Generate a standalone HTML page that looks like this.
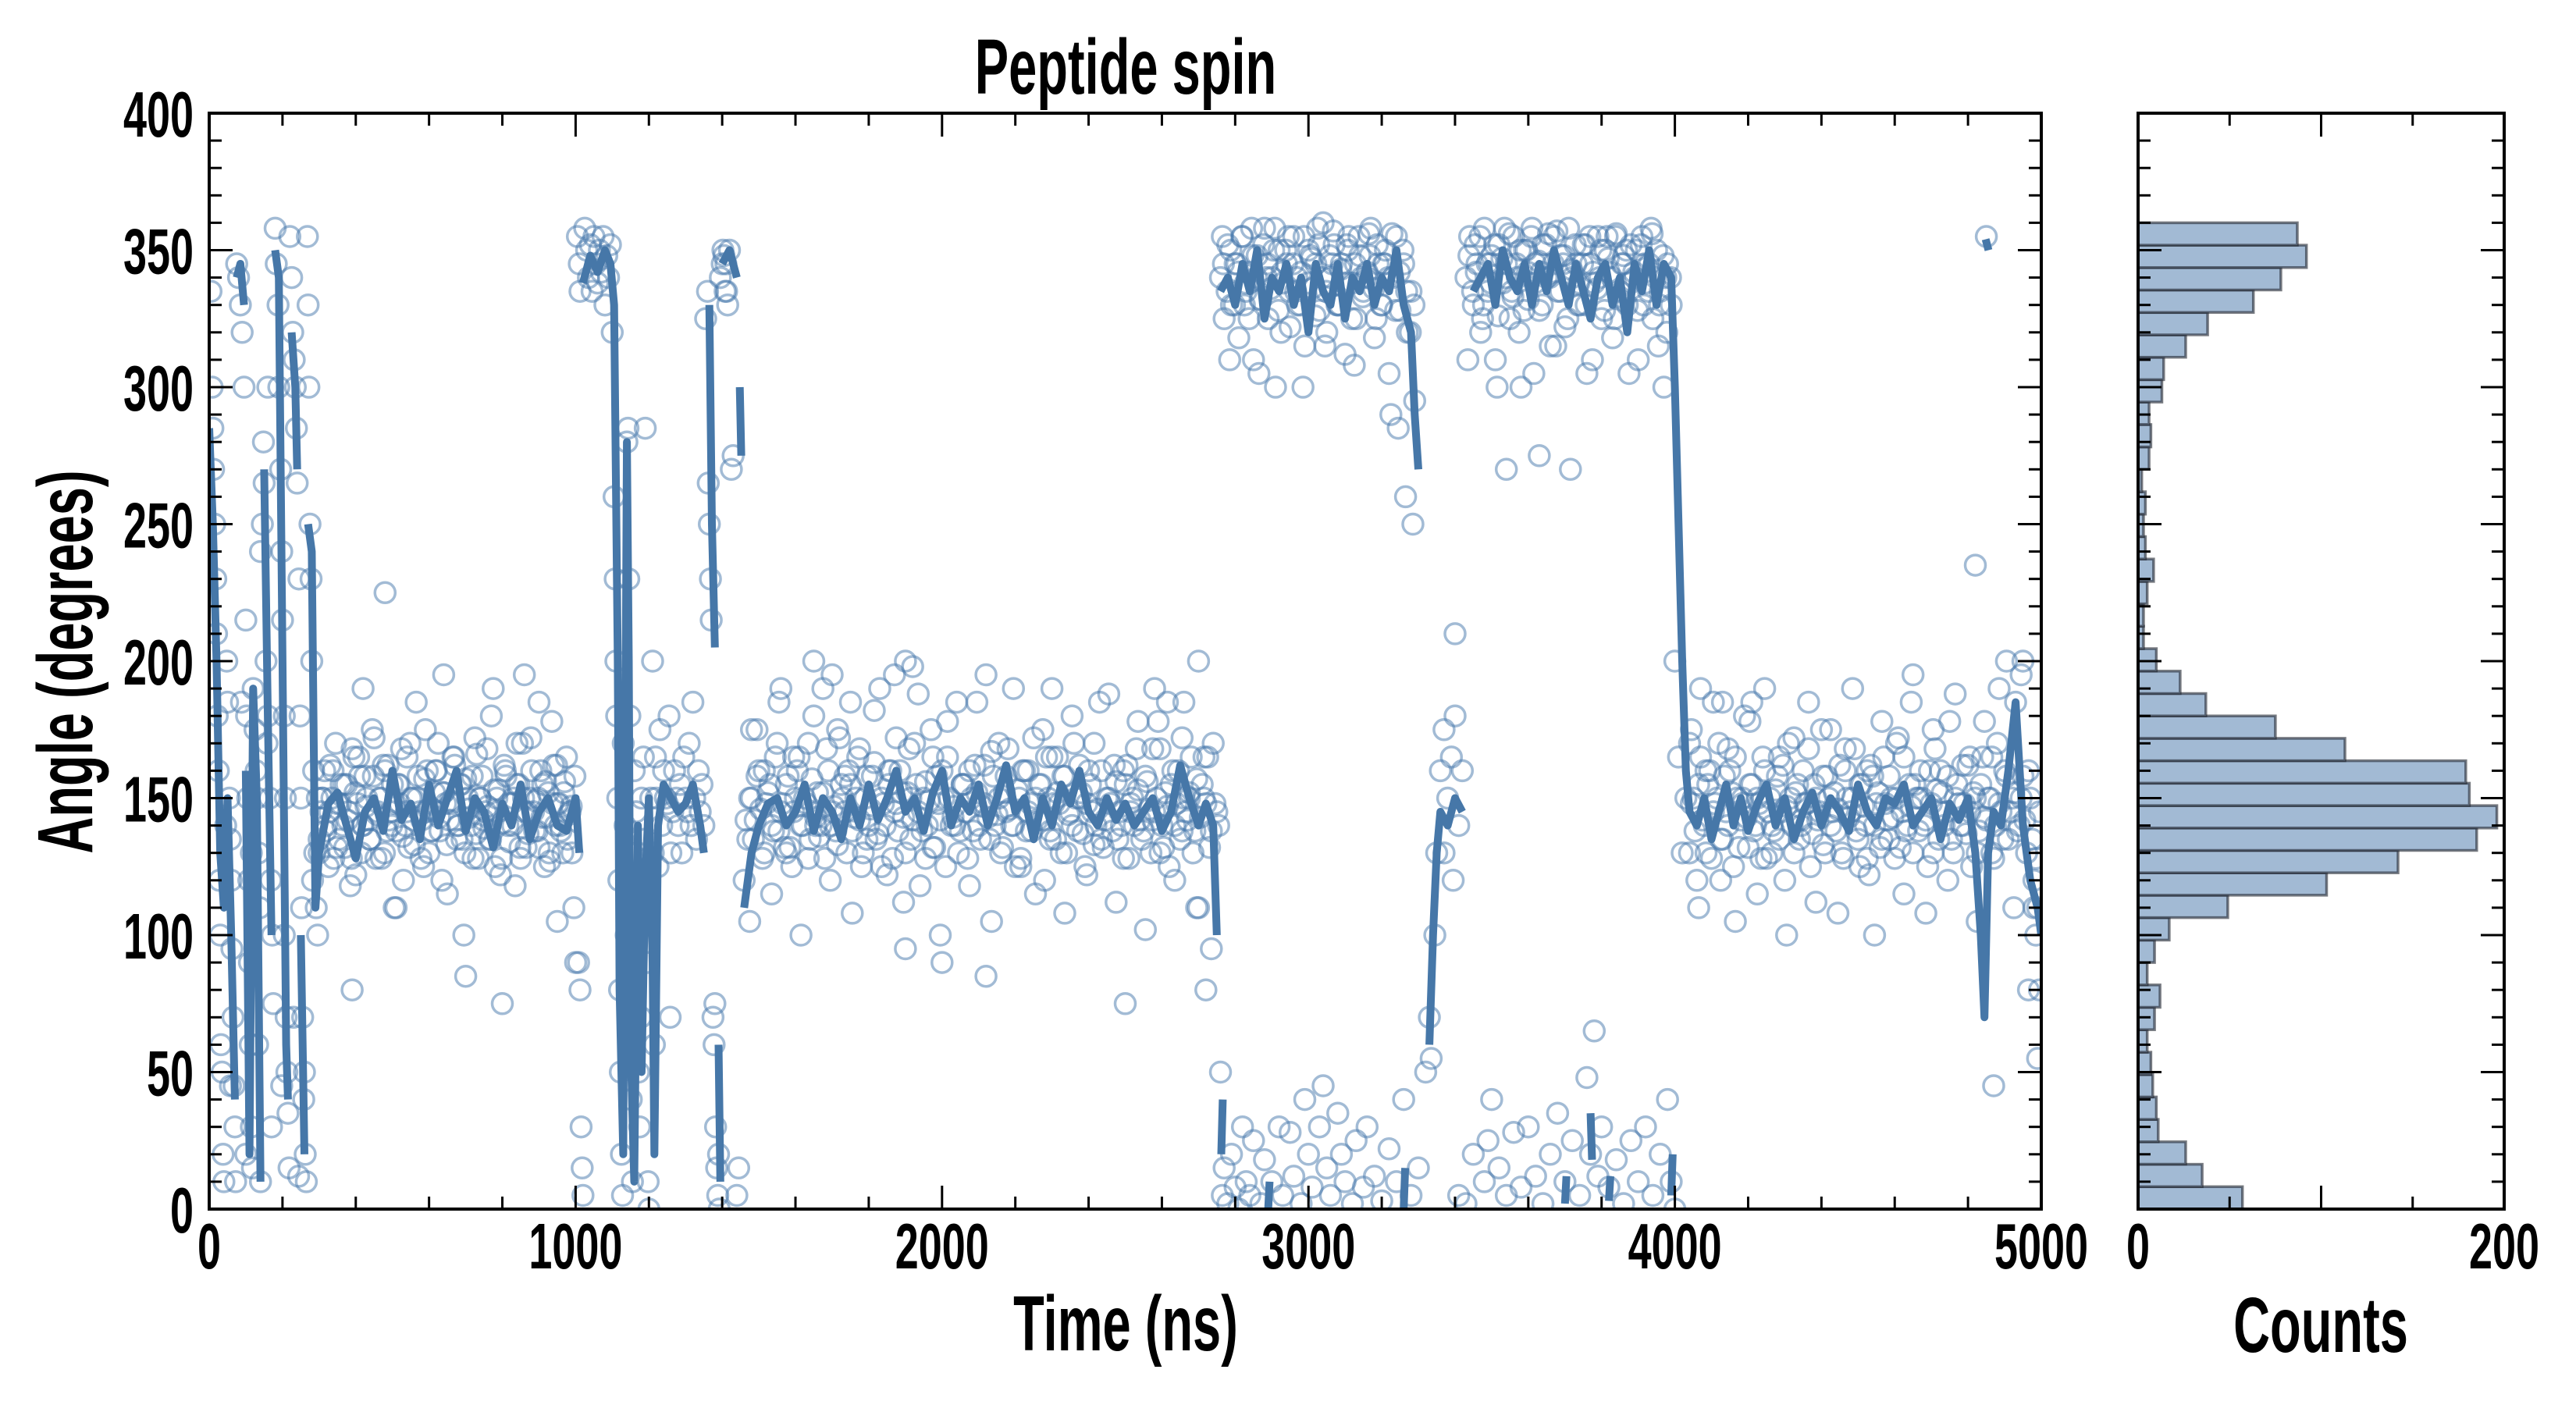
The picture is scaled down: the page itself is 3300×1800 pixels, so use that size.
<!DOCTYPE html>
<html><head><meta charset="utf-8"><title>Peptide spin</title>
<style>html,body{margin:0;padding:0;background:#fff}svg{display:block}
text{font-family:"Liberation Sans",sans-serif;font-weight:bold;fill:#000}</style></head>
<body>
<svg id="chart" xmlns="http://www.w3.org/2000/svg" width="3300" height="1800" viewBox="0 0 3300 1800">
<defs><clipPath id="mainClip"><rect x="268" y="145" width="2347" height="1404"/></clipPath></defs>
<rect x="0" y="0" width="3300" height="1800" fill="#fff"/>
<g id="scatter" clip-path="url(#mainClip)"></g>
<g id="line" clip-path="url(#mainClip)"></g>
<g id="hist"></g>
<g id="axes"></g>
<text transform="translate(1442,120) scale(0.65,1)" text-anchor="middle" font-size="100">Peptide spin</text>
<text transform="translate(1442,1730) scale(0.65,1)" text-anchor="middle" font-size="100">Time (ns)</text>
<text transform="translate(2973,1732) scale(0.65,1)" text-anchor="middle" font-size="100">Counts</text>
<text transform="translate(118,848) rotate(-90) scale(0.65,1)" text-anchor="middle" font-size="100">Angle (degrees)</text>
</svg>
<script>
const xTicks=[0,1000,2000,3000,4000,5000];
const yTicks=[0,50,100,150,200,250,300,350,400];
const histXTicks=[0,200];
const histCounts=[57,35,26,11,10,8,7,5,9,12,5,9,17,49,103,142,185,196,181,179,113,75,37,23,10,3,3,5,8.5,4,3,4,2,6,7,6,13,14,26,38,63,78,92,87];
const segStarts=[305,300,1460,1475,2760,2765,3430,3435,4040,4045,308,1465,4045,2768,3438];
const segSteps=[10,10,10,20,10,20,10,20,10,20,10,10,10,10,10];
const seg0=[145,160,125,150,170,135,140,155,118,165,148,130,158,142,175,128,150,162,138,145,110,155,168,140,132,150,185,145,125,160,138,152,170,120,148,142,165,135,155,100,150,140,172,128,158,145,135,190,150,122,162,140,148,118,155,170,132,150,145,138,160,125,152,178,140,148,130,165,145,110];
const seg1=[135,150,140,162,128,148,155,132,145,168,122,158,140,150,135,172,145,128,160,142,155,138,148,120,165,150,133,158,142,175,130,146,160,138,152,115,148,162,140,135,157,143,128,166,150,139,147,180,125,153,141,158,134,150,170,128,145,137,160,149,132,155,143,127,162,148,138,156,144,130];
const seg2=[120,135,150,142,160,128,148,155,138,170,145,132,158,125,150,165,140,148,135,180,152,140,128,160,145,138,172,150,130,155,143,165,125,150,140,158,135,190,148,122,160,145,138,152,130,168,142,155,118,150,140,175,132,148,160,125,150,143,185,138,155,128,150,162,140,147,195,135,158,144,130,152,168,140,125,150,160,138,148,172,142,155,120,150,165,135,148,158,130,145,170,138,152,125,160,145,140,185,132,150,148,162,135,140,155,128,150,168,142,138,156,130,145,178,140,152,125,160,148,135,150,142,165,138,110,155,148,132,170,145];
const seg3=[105,175,160,115,185,130,165,100,170,140,190,120,175,158,108,168,135,182,125,160,172,112,150,188,128,165,100,178,140,155,118,185,162,105,170,145,190,125,160,115,175,138,165,108,180,150,122,170,135,188,112,160,145,178,102,168,130,185,120,172,150,110,165,95];
const seg4=[340,325,352,330,345,318,355,335,342,310,348,332,358,325,340,300,350,338,345,322,355,330,342,315,350,336,345,328,360,320,340,352,330,345,312,355,338,325,348,335,342,358,318,345,330,350,305,340,355,328,345,320,335,295];
const seg5=[355,310,345,330,358,305,340,350,320,355,335,300,348,358,315,345,330,352,308,340,356,325,345,290,285,260,250];
const seg6=[340,355,330,345,320,358,335,348,310,352,338,345,325,355,340,300,350,332,358,345,328,352,340,315,355,335,348,322,358,340,345,330,352,305,345,338,355,325,350,342,318,356,335,348,330,352,340,310,355,338,345,325,350,335,300,345,330];
const seg7=[310,352,325,345,300,358,335,320,350,305,342,356,315,345,270,330,352,310,340,355,325,345,305,350,330,358,315,340];
const seg8=[130,150,120,165,140,155,128,148,170,135,145,160,125,150,142,180,132,155,140,148,165,128,150,138,158,145,120,170,140,152,135,160,148,125,155,142,175,130,150,145,138,162,128,150,145,168,135,155,140,122,158,148,132,165,142,150,128,172,145,138,155,130,150,160,140,125,148,168,135,152,145,178,130,155,140,148,162,125,150,138,165,142,150,128,170,145,160,135,150,185,140,158,130,150,120,110];
const seg9=[175,110,160,185,120,168,105,150,178,115,190,130,165,100,172,140,185,112,158,175,108,168,190,125,160,100,178,135,170,115,185,150,108,175,160,120,188,140,165,105,178,130,190,200,110,195,80,100];
const seg10=[150,138,145,160,132,148,155,142,128,152,165,140,147,135,158,144,150,130,162,140,148,155,136,145,170,142,150,128,157,146,138,160,143,152,133,149,165,140,155,130,146,158,137,150,142,168,135,153,145,128,160,148,140,155,132,150,145,172,138,150,143,156,130,148,162,140,152,135,147,158];
const seg11=[142,150,135,158,146,130,152,140,165,138,148,155,132,145,160,140,150,128,157,143,136,152,168,140,147,133,155,145,160,138,150,142,130,158,146,163,137,150,140,155,128,148,160,143,152,135,170,145,138,156,149,132,158,142,150,165,140,147,130,155,145,160,138,152,135,148,143,167,140,150,132,158,146,140,153,128,160,145,138,150,155,142,165,135,148,152,130,158,144,140,150,162,137,148,155,133,146,160,142,150,138,156,145,128,162,148,140,153,135,158,146,142,150,168,132,147,155,140,160,138,145,152,130,157,143,150,165,138,148,140];
const seg12=[148,138,155,142,130,160,145,150,135,158,140,152,165,132,148,143,155,138,150,128,160,145,140,153,135,162,147,150,130,155,142,148,168,137,150,145,133,158,140,152,146,130,160,143,150,138,155,147,128,162,140,152,135,148,158,143,150,132,165,140,147,155,138,150,142,160,130,153,145,140,158,135,150,148,162,137,145,152,130,155,143,150,165,140,148,135,158,145,152,138,150,142,160,135,128,145];
const seg13=[345,335,350,330,342,355,338,325,348,340,332,352,345,336,358,328,342,350,335,345,340,330,355,338,347,326,352,340,335,348,357,330,343,338,350,325,345,355,333,340,348,336,352,330,345,340,356,328,342,350,335,320,330];
const seg14=[348,335,342,355,330,345,338,352,326,347,340,356,333,345,350,328,342,355,338,346,330,352,340,345,357,335,348,325,343,352,338,345,330,355,342,336,350,328,347,340,355,333,345,350,338,342,328,352,345,335,356,340,330,348,320,340];
const extraPts=[[390,80],[480,225],[420,190],[640,195],[700,85],[800,75],[860,195],[900,185],[950,105],[510,110],[1000,90],
[1480,175],[1560,190],[1650,200],[1700,195],[1750,185],[1870,195],[1900,200],[1920,198],[2000,90],[2120,85],[2300,190],[2500,75],[2580,190],[2660,185],[2700,200],[2720,80],[1900,95],
[3540,270],[3630,275],[3400,210],
[4070,190],[4130,185],[4210,185],[4650,195],[4820,235],[4870,45],[4990,55],[4995,80],[4950,200],[4980,110],[4850,355],
[5,335],[8,300],[10,285],[12,270],[15,250],[18,230],[20,210],[22,180],[25,160],[28,120],[30,100],[32,60],[35,50],[38,20],[40,10],[45,140],[48,200],[50,185],[55,150],[58,135],[60,120],[62,95],[65,70],[68,45],[70,30],[72,10],[75,345],[80,340],[85,330],[90,320],[95,300],[100,215],[102,180],[105,150],[108,120],[110,90],[112,60],[115,30],[118,15],[120,190],[125,175],[128,160],[130,150],[135,130],[138,110],[140,10],[145,250],[148,280],[150,265],[155,200],[158,170],[160,180],[165,150],[168,120],[172,100],[175,75],[180,358],[183,345],[188,330],[190,300],[195,270],[198,240],[200,215],[205,180],[208,150],[210,70],[212,50],[215,35],[218,15],[220,355],[225,340],[228,320],[232,310],[235,300],[238,285],[240,265],[245,230],[248,180],[250,150],[252,110],[255,70],[258,40],[262,20],[265,10],[268,355],[270,330],[272,300],[275,250],[278,230],[280,200],[285,160],[288,130],[292,110],[296,100],[300,130],[295,150],[282,120],[260,50],[244,12],[230,70],[198,45],[160,300],[132,60],[100,20],[58,45],[88,185],[115,130],[140,240],[170,30],[205,100],
[1005,355],[1010,345],[1012,335],[1015,30],[1018,15],[1020,5],[1008,90],[1012,80],[1025,358],[1030,350],[1035,340],[1040,352],[1045,335],[1050,355],[1055,345],[1060,338],[1065,350],[1070,342],[1075,355],[1080,330],[1085,348],[1090,340],[1095,352],[1100,320],[1105,260],[1108,230],[1110,200],[1112,180],[1115,150],[1118,120],[1120,80],[1122,50],[1125,20],[1128,5],[1130,170],[1135,140],[1138,100],[1140,280],[1143,285],[1145,230],[1148,180],[1150,60],[1152,40],[1155,10],[1160,160],[1165,145],[1170,130],[1172,50],[1175,30],[1178,70],[1180,150],[1185,165],[1188,135],[1190,285],[1192,120],[1195,90],[1198,10],[1200,0],[1205,150],[1210,200],[1212,130],[1215,60],[1218,165],[1220,150],[1225,125],[1230,175],[1235,140],[1240,160],[1245,150],[1250,148],[1255,180],[1258,70],[1260,130],[1265,145],[1270,160],[1275,150],[1280,140],[1285,155],[1290,130],[1295,165],[1300,150],[1305,145],[1310,170],[1315,140],[1320,185],[1325,150],[1330,135],[1335,160],[1340,145],[1345,155],[1350,140],[1355,325],[1360,335],[1362,265],[1365,250],[1368,230],[1370,215],[1375,70],[1378,60],[1380,75],[1382,30],[1385,15],[1388,5],[1390,20],[1392,0],[1395,340],[1400,345],[1402,350],[1405,348],[1408,335],[1410,345],[1412,335],[1415,330],[1420,350],[1425,270],[1430,275],[1440,5],[1445,15],
[2760,50],[2765,5],[2770,15],[2780,2],[2790,20],[2800,8],[2810,0],[2820,30],[2830,10],[2840,5],[2850,25],[2870,2],[2880,18],[2900,10],[2920,30],[2930,5],[2950,28],[2960,12],[2980,2],[2990,40],[3000,20],[3010,8],[3030,30],[3040,45],[3050,15],[3060,5],[3080,35],[3090,20],[3100,10],[3120,2],[3130,25],[3150,8],[3160,30],[3180,12],[3200,3],[3220,22],[3240,10],[3260,40],[3280,5],[3300,15],[3320,50],[3410,5],[3430,2],[3450,20],[3480,10],[3490,25],[3500,40],[3520,15],[3540,5],[3560,28],[3580,8],[3600,30],[3620,12],[3640,2],[3660,20],[3680,35],[3700,10],[3720,25],[3740,5],[3760,48],[3770,20],[3780,65],[3790,12],[3800,30],[3820,8],[3840,18],[3860,2],[3880,25],[3900,10],[3920,30],[3940,5],[3960,20],[3980,40],[3990,10],[4000,0],
[3330,70],[3335,55],[3345,100],[3350,130],[3360,160],[3370,175],[3380,150],[3390,165],[3400,180],[3410,140],[3420,160],[3370,130],[3395,120],[4000,200],[4010,165],[4020,130],[4030,150],[4040,170]];
const linePts=[[0,285],[10,250],[20,200],[30,130],[40,110],[50,150],[60,100],[70,40],null,[75,340],[85,345],[95,330],null,[100,160],[110,20],[120,190],[130,150],[140,10],null,[150,270],[160,180],[170,100],null,[180,350],[190,340],[200,200],[210,60],[215,40],null,[225,320],[235,300],[240,270],null,[250,100],[260,20],null,[270,250],[280,240],[290,110],[300,130],
[325,148],[350,152],[375,140],[400,128],[425,145],[450,150],[475,138],[500,160],[525,142],[550,148],[575,135],[600,155],[625,140],[650,150],[675,160],[700,138],[725,150],[750,145],[775,132],[800,148],[825,140],[850,155],[875,135],[900,145],[925,150],[950,140],[975,138],[1000,150],[1010,130],null,
[1020,338],[1040,348],[1060,342],[1080,350],[1095,345],[1105,330],[1115,200],[1120,80],[1130,20],[1135,150],[1140,280],[1145,200],[1150,60],[1160,10],[1170,140],[1180,50],[1190,120],[1200,150],[1210,90],[1215,20],[1225,140],[1240,155],[1260,150],[1280,145],[1300,148],[1320,155],[1340,140],[1350,130],null,
[1365,330],[1372,250],[1380,205],null,[1390,60],[1395,10],null,[1400,345],[1420,350],[1440,340],null,[1448,300],[1452,275],null,
[1460,110],[1480,130],[1500,140],[1525,148],[1550,150],[1575,140],[1600,145],[1625,155],[1650,138],[1675,150],[1700,145],[1725,135],[1750,150],[1775,140],[1800,155],[1825,142],[1850,150],[1875,160],[1900,145],[1925,150],[1950,138],[1975,152],[2000,160],[2025,140],[2050,150],[2075,145],[2100,155],[2125,140],[2150,150],[2175,162],[2200,145],[2225,150],[2250,135],[2275,150],[2300,140],[2325,155],[2350,148],[2375,160],[2400,145],[2425,140],[2450,150],[2475,142],[2500,148],[2525,140],[2550,145],[2575,150],[2600,138],[2625,145],[2650,162],[2675,150],[2700,140],[2720,148],[2740,140],[2750,100],null,
[2760,335],[2780,340],[2800,330],[2820,345],[2840,335],[2860,350],[2880,325],[2900,340],[2920,335],[2940,345],[2960,330],[2980,340],[3000,320],[3020,345],[3040,335],[3060,330],[3080,345],[3100,325],[3120,340],[3140,335],[3160,345],[3180,330],[3200,340],[3220,335],[3240,350],[3260,330],[3280,320],[3290,290],[3300,270],null,
[3330,60],[3340,100],[3350,130],[3360,145],[3380,140],[3400,150],[3420,145],null,
[3450,335],[3470,340],[3490,345],[3510,330],[3530,350],[3550,340],[3570,335],[3590,345],[3610,330],[3630,345],[3650,335],[3670,350],[3690,340],[3710,330],[3730,345],[3750,335],[3770,325],[3790,340],[3810,345],[3830,330],[3850,340],[3870,320],[3890,345],[3910,335],[3930,350],[3950,330],[3970,345],[3990,340],[4000,300],[4010,250],[4020,200],[4030,160],[4040,145],
[4060,140],[4080,150],[4100,135],[4120,145],[4140,155],[4160,140],[4180,150],[4200,138],[4225,148],[4250,155],[4275,140],[4300,150],[4325,135],[4350,145],[4375,152],[4400,140],[4425,150],[4450,145],[4475,138],[4500,155],[4525,145],[4550,140],[4575,150],[4600,148],[4625,155],[4650,140],[4675,145],[4700,150],[4725,135],[4750,148],[4775,142],[4800,150],[4820,130],[4835,100],[4845,70],[4855,130],[4870,145],[4890,140],[4910,160],[4930,185],[4950,140],[4970,120],[4990,110],[5000,100],null,
[4848,354],[4856,350],null,[2762,20],[2766,40],null,[2890,0],[2894,10],null,[3260,0],[3264,15],null,[3700,2],[3704,12],null,[3770,35],[3774,18],null,[3820,3],[3824,12],null,[3990,5],[3994,20]];

const NS='http://www.w3.org/2000/svg';
const PX0=268,PX1=2615,PY0=1549,PY1=145,HX0=2739,HX1=3208;
const X=t=>PX0+t*(PX1-PX0)/5000;
const Y=a=>PY0-a*(PY0-PY1)/400;
const HX=c=>HX0+c*(HX1-HX0)/200;
function mk(tag,attrs,parent){const e=document.createElementNS(NS,tag);for(const k in attrs)e.setAttribute(k,attrs[k]);parent.appendChild(e);return e;}

const sg=document.getElementById('scatter');
const segs=[seg0,seg1,seg2,seg3,seg4,seg5,seg6,seg7,seg8,seg9,seg10,seg11,seg12,seg13,seg14];
function dot(t,a){const c=mk('circle',{cx:X(t).toFixed(1),cy:Y(a).toFixed(1),r:13,fill:'none',stroke:'rgba(70,120,172,0.5)','stroke-width':3.5},sg);

}
segs.forEach((s,i)=>s.forEach((a,j)=>dot(segStarts[i]+j*segSteps[i],a)));
extraPts.forEach(p=>dot(p[0],p[1]));

const lg=document.getElementById('line');
let d='',pen=false;
linePts.forEach(p=>{if(!p){pen=false;return;}d+=(pen?'L':'M')+X(p[0]).toFixed(1)+' '+Y(p[1]).toFixed(1);pen=true;});
const lp=mk('path',{d:d,fill:'none',stroke:'#4677a8','stroke-width':10,'stroke-linejoin':'round','stroke-linecap':'butt'},lg);



const hg=document.getElementById('hist');
const bw=360/histCounts.length;
histCounts.forEach((c,i)=>{const lo=i*bw,hi=(i+1)*bw;
const r=mk('rect',{x:HX0,y:Y(hi).toFixed(1),width:(HX(c)-HX0).toFixed(1),height:(Y(lo)-Y(hi)).toFixed(1),fill:'#a2bad4',stroke:'rgba(30,35,45,0.6)','stroke-width':3.5},hg);

});

const ag=document.getElementById('axes');
function line(x1,y1,x2,y2,w){mk('line',{x1,y1,x2,y2,stroke:'#000','stroke-width':w},ag);}
function label(x,y,s,anchor,name){const t=mk('text',{transform:`translate(${x},${y}) scale(0.65,1)`,'text-anchor':anchor,'font-size':83},ag);t.textContent=s;

}
function box(x0,x1){mk('rect',{x:x0,y:PY1,width:x1-x0,height:PY0-PY1,fill:'none',stroke:'#000','stroke-width':4},ag);
for(let a=0;a<=400;a+=10){const y=Y(a),L=(a%50===0)?30:16;line(x0,y,x0+L,y,3);line(x1,y,x1-L,y,3);}}
box(PX0,PX1);box(HX0,HX1);
for(let t=0;t<=5000;t+=200){const x=X(t),L=(t%1000===0)?30:16;line(x,PY0,x,PY0-L,3);line(x,PY1,x,PY1+L,3);}
for(let c=0;c<=200;c+=50){const x=HX(c),L=(c%100===0)?30:16;line(x,PY0,x,PY0-L,3);line(x,PY1,x,PY1+L,3);}
yTicks.forEach(v=>label(248,Y(v)+30,String(v),'end','y-tick-label'));
xTicks.forEach(v=>label(X(v),1625,String(v),'middle','x-tick-label'));
histXTicks.forEach(v=>label(HX(v),1625,String(v),'middle','hist-x-tick-label'));
</script>
</body></html>
